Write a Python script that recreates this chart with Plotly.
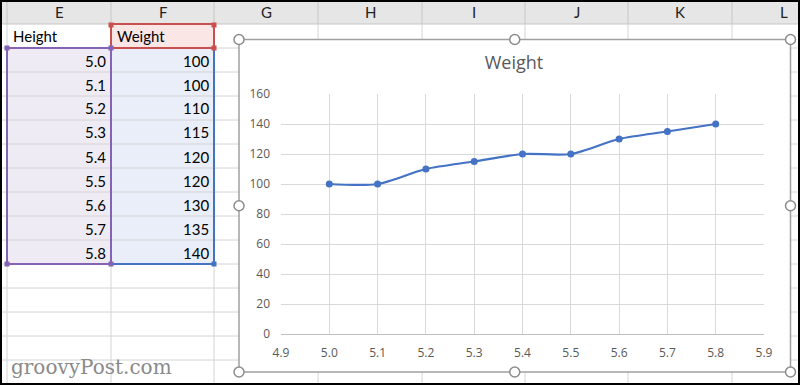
import plotly.graph_objects as go

# ---------------- data ----------------
heights = [5.0, 5.1, 5.2, 5.3, 5.4, 5.5, 5.6, 5.7, 5.8]
weights = [100, 100, 110, 115, 120, 120, 130, 135, 140]
col_letters = ["E", "F", "G", "H", "I", "J", "K", "L"]
header_height = "Height"
header_weight = "Weight"
chart_title = "Weight"
watermark = "groovyPost.com"

W, H = 800, 385


def px(x):
    return x / W


def py(y):
    return 1 - y / H


shapes = []
annos = []


def line(x0, y0, x1, y1, color, width=1, layer="below"):
    shapes.append(dict(type="line", xref="paper", yref="paper",
                       x0=px(x0), y0=py(y0), x1=px(x1), y1=py(y1),
                       line=dict(color=color, width=width), layer=layer))


def rect(x0, y0, x1, y1, fill=None, color=None, width=0, layer="below"):
    d = dict(type="rect", xref="paper", yref="paper",
             x0=px(x0), y0=py(y0), x1=px(x1), y1=py(y1), layer=layer)
    d["fillcolor"] = fill if fill else "rgba(0,0,0,0)"
    d["line"] = dict(color=color if color else "rgba(0,0,0,0)", width=width)
    shapes.append(d)


def text(x, y, s, size=15, color="#000000", xanchor="left", font="Lato"):
    annos.append(dict(xref="paper", yref="paper", x=px(x), y=py(y), text=s,
                      showarrow=False, xanchor=xanchor, yanchor="middle",
                      font=dict(family=font, size=size, color=color)))


# ---------------- spreadsheet ----------------
col_edges = [7, 111, 214, 318, 422, 525, 628, 732, 836]
row_top = 24
row_h = 24
grid = "#d4d4d4"

# column header strip
rect(0, 0, 800, row_top, fill="#e6e6e6")
for i, lab in enumerate(col_letters):
    cx = (col_edges[i] + min(col_edges[i + 1], 836)) / 2
    text(cx, 12.5, lab, size=15, color="#222222", xanchor="center", font="Lato")
for xe in col_edges[:-1]:
    line(xe, 0, xe, row_top, "#c6c6c6")
line(0, row_top, 800, row_top, "#c6c6c6")

# cell fills
n = len(heights)
data_top = row_top + row_h
data_bot = data_top + n * row_h
rect(col_edges[0], data_top, col_edges[1], data_bot, fill="#efebf5")
rect(col_edges[1], data_top, col_edges[2], data_bot, fill="#e9eef8")
rect(col_edges[1], row_top, col_edges[2], data_top, fill="#fbe6e6")

# gridlines
for k in range(1, 16):
    yy = row_top + k * row_h
    line(0, yy, 800, yy, grid)
for xe in col_edges[:-1]:
    line(xe, row_top, xe, H, grid)

# cell texts
text(col_edges[0] + 4, row_top + row_h / 2, header_height)
text(col_edges[1] + 4, row_top + row_h / 2, header_weight)
for j, (hv, wv) in enumerate(zip(heights, weights)):
    cy = data_top + j * row_h + row_h / 2 + 0.5
    text(col_edges[1] - 3, cy, f"{hv:.1f}", xanchor="right")
    text(col_edges[2] - 3, cy, f"{wv}", xanchor="right")

# range highlight borders
purple = "#8462b4"
red = "#c8504f"
blue = "#4472c4"
line(col_edges[0], data_top, col_edges[0], data_bot, purple, 2)
line(col_edges[0], data_top, col_edges[1], data_top, purple, 2)
line(col_edges[0], data_bot, col_edges[1], data_bot, purple, 2)
line(col_edges[2], data_top, col_edges[2], data_bot, blue, 2)
line(col_edges[1], data_bot, col_edges[2], data_bot, blue, 2)
line(col_edges[1], row_top, col_edges[2], row_top, red, 2)
line(col_edges[2], row_top, col_edges[2], data_top, red, 2)
line(col_edges[1], data_top, col_edges[2], data_top, red, 2)
line(col_edges[1], row_top, col_edges[1], data_top, red, 2)
line(col_edges[1], data_top, col_edges[1], data_bot, purple, 2)


def sq(cx, cy, color, s=2.5):
    rect(cx - s, cy - s, cx + s, cy + s, fill=color)


sq(col_edges[0], data_top, purple)
sq(col_edges[1], data_top, purple)
sq(col_edges[0], data_bot, purple)
sq(col_edges[1], data_bot, purple)
sq(col_edges[1], row_top + 1, red)
sq(col_edges[2], row_top + 1, red)
sq(col_edges[2], data_top, red)
sq(col_edges[2], data_bot, blue)

# ---------------- chart object ----------------
cl, ct, cr, cb = 239, 39.5, 790.5, 372
rect(cl, ct, cr, cb, fill="#ffffff", color="#a0a0a0", width=1.5)

# handles (above)
hx = [cl, (cl + cr) / 2, cr]
hy = [ct, (ct + cb) / 2, cb]
for yy in hy:
    for xx in hx:
        if xx == hx[1] and yy == hy[1]:
            continue
        shapes.append(dict(type="circle", xref="paper", yref="paper",
                           x0=px(xx - 5), y0=py(yy - 5), x1=px(xx + 5), y1=py(yy + 5),
                           fillcolor="#ffffff", line=dict(color="#8c8c8c", width=1.5),
                           layer="above"))

# watermark
text(9, 367, watermark, size=20, color="#8a8a8a", font="DejaVu Serif")

# outer frame
rect(1, 1, 799, 384, color="#000000", width=2, layer="above")

# ---------------- plot ----------------
fig = go.Figure()
fig.add_trace(go.Scatter(
    x=heights, y=weights, mode="lines+markers",
    line=dict(shape="spline", smoothing=0.8, color="#4472c4", width=2.25),
    marker=dict(size=7, color="#4472c4"),
    hoverinfo="x+y", showlegend=False,
))

fig.update_layout(
    width=W, height=H,
    margin=dict(l=0, r=0, t=0, b=0, pad=0, autoexpand=False),
    paper_bgcolor="#ffffff",
    plot_bgcolor="rgba(0,0,0,0)",
    title=dict(text=chart_title, x=514 / W, y=py(63), xanchor="center", yanchor="middle",
               font=dict(family="Open Sans", size=18, color="#595959")),
    xaxis=dict(domain=[281 / W, 764 / W], range=[4.9, 5.9], dtick=0.1, tick0=4.9,
               tickformat=".1f", showgrid=True, gridcolor="#d9d9d9", gridwidth=1,
               zeroline=False, showline=True, linecolor="#bfbfbf", linewidth=1,
               ticks="", ticklabelstandoff=8, automargin=False,
               tickfont=dict(family="Open Sans", size=12, color="#595959"),
               fixedrange=True),
    yaxis=dict(domain=[py(334), py(94)], range=[0, 160], dtick=20,
               showgrid=True, gridcolor="#d9d9d9", gridwidth=1,
               zeroline=False, showline=False, ticks="", ticklabelstandoff=10,
               automargin=False,
               tickfont=dict(family="Open Sans", size=12, color="#595959"),
               fixedrange=True),
    shapes=shapes,
    annotations=annos,
)

fig.write_html("out.html",
               post_script="document.body.style.margin='0';",
               config={"displayModeBar": False})
